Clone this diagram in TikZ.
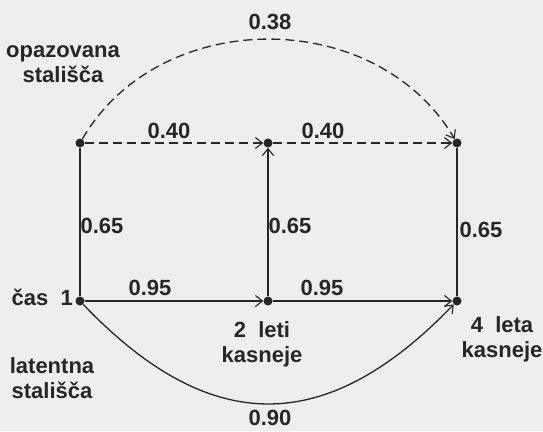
\documentclass[tikz,border=0pt]{standalone}
\usepackage{fontspec}
\setmainfont{Liberation Sans}
\usetikzlibrary{arrows.meta}
\definecolor{ink}{HTML}{262626}
\definecolor{paper}{HTML}{EEEEEE}
\tikzset{
  dot/.style={circle,fill=ink,inner sep=0pt,minimum size=9pt},
  lbl/.style={text=ink,inner sep=0pt,font=\fontsize{22}{25}\selectfont\bfseries},
  conn/.style={draw=ink,line width=1.3pt},
  arr/.style={-{Straight Barb[length=7pt,width=11pt,line width=1.1pt]}},
  dsh/.style={dash pattern=on 9pt off 5pt}
}
\begin{document}
\begin{tikzpicture}[x=1pt,y=-1pt]
\fill[paper] (0,0) rectangle (543,431);
\useasboundingbox (0,0) rectangle (543,431);
% nodes
\node[dot] (t1) at (80,143) {};
\node[dot] (t2) at (268,143) {};
\node[dot] (t3) at (457,143) {};
\node[dot] (b1) at (80,301) {};
\node[dot] (b2) at (268,301) {};
\node[dot] (b3) at (457,301) {};
% connectors
\draw[conn,dsh,arr] (t1) -- (t2);
\draw[conn,dsh,arr] (t2) -- (t3);
\draw[conn,arr] (b1) -- (b2);
\draw[conn,arr] (b2) -- (b3);
\draw[conn] (b1) -- (t1);
\draw[conn,arr] (b2) -- (t2);
\draw[conn] (b3) -- (t3);
\draw[conn,dsh,arr] (t1) .. controls (160,6) and (376,6) .. (t3);
\draw[conn,arr] (b1) .. controls (210,437) and (326,437) .. (b3);
% labels
\node[lbl,anchor=base] (l38) at (270,29) {0.38};
\node[lbl,anchor=base] (l40a) at (169,138) {0.40};
\node[lbl,anchor=base] (l40b) at (323,138) {0.40};
\node[lbl,anchor=base] (l65a) at (102,233) {0.65};
\node[lbl,anchor=base] (l65b) at (290,233) {0.65};
\node[lbl,anchor=base] (l65c) at (481,237) {0.65};
\node[lbl,anchor=base] (l95a) at (150,295) {0.95};
\node[lbl,anchor=base] (l95b) at (322,295) {0.95};
\node[lbl,anchor=base] (l90) at (270,425) {0.90};
\node[lbl,anchor=base east] (cas) at (73,305) {čas\ \ 1};
\node[lbl,anchor=base,align=center] (obs) at (63,82) {opazovana\\stališča};
\node[lbl,anchor=base,align=center] (lat) at (52,398) {latentna\\stališča};
\node[lbl,anchor=base,align=center] (two) at (262,362) {2\ \ leti\\kasneje};
\node[lbl,anchor=base,align=center] (four) at (502,357) {4\ \ leta\\kasneje};
\end{tikzpicture}
\end{document}
